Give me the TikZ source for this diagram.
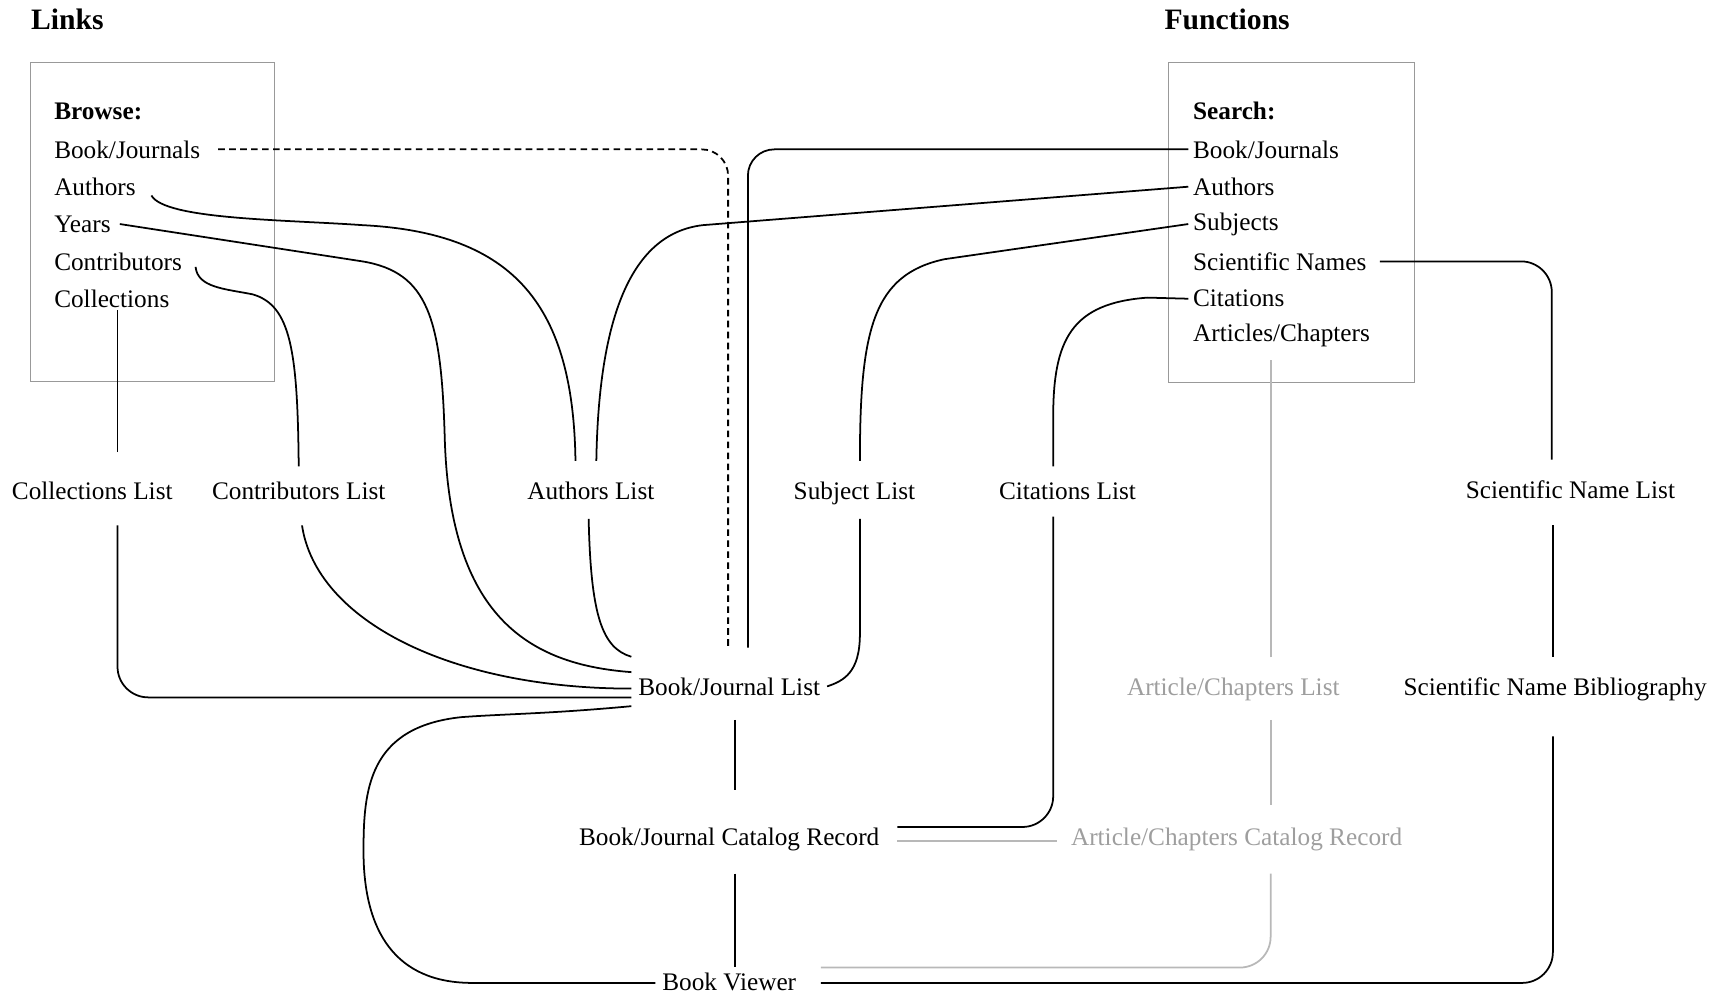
\documentclass[tikz,border=0pt]{standalone}
\usepackage{fontspec}
\setmainfont{Liberation Serif}
\usetikzlibrary{positioning,calc}

\begin{document}
\begin{tikzpicture}[
    x=0.5pt, y=-0.5pt,
    every node/.style={font=\fontsize{11.5}{13}\selectfont},
    header/.style={font=\fontsize{13.5}{15}\selectfont\bfseries, anchor=west, inner sep=1pt},
    item/.style={anchor=west, inner xsep=2pt, inner ysep=1pt},
    page/.style={text height=9.5pt, text depth=1pt, inner xsep=3pt, inner ysep=7.75pt},
    grayPage/.style={page, text=black!38},
    frame/.style={draw=black!40, line width=0.5pt},
    link/.style={line width=0.8pt},
    grayLink/.style={link, draw=black!28},
    dashLink/.style={link, dash pattern=on 3pt off 2pt}
  ]
  \useasboundingbox (0,0) rectangle (1568,907);

  % Headers
  \node[header] (links) at (26,18) {Links};
  \node[header] (functions) at (1058,18) {Functions};

  % Browse box
  \draw[frame] (28,57) rectangle (250,347);
  \node[item] (browse) at (45,101) {\textbf{Browse:}};
  \node[item] (bBooks) at (45,136) {Book/Journals};
  \node[item] (bAuthors) at (45,170) {Authors};
  \node[item] (bYears) at (45,204) {Years};
  \node[item] (bContrib) at (45,238) {Contributors};
  \node[item] (bCollect) at (45,272) {Collections};

  % Search box
  \draw[frame] (1064,57) rectangle (1288,348);
  \node[item] (search) at (1082,101) {\textbf{Search:}};
  \node[item] (sBooks) at (1082,136) {Book/Journals};
  \node[item] (sAuthors) at (1082,170) {Authors};
  \node[item] (sSubjects) at (1082,204) {Subjects};
  \node[item] (sSciNames) at (1082,238) {Scientific Names};
  \node[item] (sCitations) at (1082,272) {Citations};
  \node[item] (sArticles) at (1082,305) {Articles/Chapters};

  % List pages
  \node[page] (collList) at (84,446) {Collections List};
  \node[page] (contribList) at (272,446) {Contributors List};
  \node[page] (authList) at (538,446) {Authors List};
  \node[page] (subjList) at (778,446) {Subject List};
  \node[page] (citeList) at (972,446) {Citations List};
  \node[page] (sciList) at (1430,445) {Scientific Name List};

  \node[page] (bookList) at (664,625) {Book/Journal List};
  \node[grayPage] (artList) at (1123,625) {Article/Chapters List};
  \node[page] (sciBib) at (1416,625) {Scientific Name Bibliography};

  % Records and viewer
  \node[page] (bookRec) at (664,761) {Book/Journal Catalog Record};
  \node[grayPage] (artRec) at (1126,761) {Article/Chapters Catalog Record};
  \node[page] (viewer) at (664,893) {Book Viewer};

  % Browse links
  \draw[dashLink, rounded corners=12pt] ($(bBooks.east)+(12,0)$) -| ($(bookList.north)+(-1,-9)$);
  \draw[link] ($(bAuthors.east)+(10,8)$) .. controls (150,200) and (260,200) .. (330,205)
    .. controls (470,212) and (522,280) .. ($(authList.north)+(-14,0)$);
  \draw[link] ($(bYears.east)+(4,0)$) -- (330,238) .. controls (390,248) and (402,290) .. (405,400)
    .. controls (410,560) and (480,605) .. ($(bookList.west)+(0,-13)$);
  \draw[link] ($(bContrib.east)+(8,5)$) .. controls (180,262) and (205,263) .. (230,268)
    .. controls (265,278) and (271,320) .. ($(contribList.north)+(0,5)$);
  \draw[link] ($(collList.north)+(23,-8)$) -- ($(collList.north |- bCollect.south)+(23,0)$);

  % Lists into the book list
  \draw[link, rounded corners=14pt] ($(collList.south)+(23,6)$) |- ($(bookList.west)+(0,10)$);
  \draw[link] ($(contribList.south)+(3,6)$) .. controls (288,565) and (410,627) .. ($(bookList.west)+(0,2)$);
  \draw[link] ($(authList.south)+(-2,0)$) .. controls (538,560) and (548,590) .. ($(bookList.west)+(0,-27)$);
  \draw[link] ($(bookList.west)+(0,18)$) .. controls (500,650) and (460,650) .. (420,653)
    .. controls (335,662) and (331,720) .. (331,775)
    .. controls (331,848) and (360,895) .. (430,895) -- ($(viewer.west)+(0,2)$);

  % Search links
  \draw[link, rounded corners=12pt] (sBooks.west) -| ($(bookList.north)+(17,-9)$);
  \draw[link] (sAuthors.west) -- (640,205) .. controls (570,213) and (545,300) .. ($(authList.north)+(5,0)$);
  \draw[link] (sSubjects.west) -- (860,236) .. controls (795,250) and (783,300) .. ($(subjList.north)+(5,0)$);
  \draw[link] ($(subjList.south)+(5,0)$) -- ($(subjList.south)+(5,105)$)
    .. controls ($(subjList.south)+(5,140)$) and ($(bookList.east)+(15,-5)$) .. (bookList.east);
  \draw[link] (sCitations.west) -- (1045,271) .. controls (975,276) and (959,310) .. (959,380)
    -- ($(citeList.north)+(-13,5)$);
  \draw[link, rounded corners=14pt] ($(citeList.south)+(-13,-2)$) |- ($(bookRec.east)+(10,-8)$);
  \draw[grayLink] ($(bookRec.east)+(10,5)$) -- ($(artRec.west)+(-6,5)$);
  \draw[link, rounded corners=14pt] ($(sSciNames.east)+(8,0)$) -| ($(sciList.north)+(-17,0)$);
  \draw[link] ($(sciList.south)+(-16,7)$) -- ($(sciList.south |- sciBib.north)+(-16,0)$);
  \draw[link, rounded corners=14pt] ($(sciBib.south)+(-2,19)$) |- ($(viewer.east)+(16,2)$);

  % Articles/Chapters column
  \draw[grayLink] ($(artList.north)+(34,0)$) -- ($(artList.north |- sArticles.south)+(34,10)$);
  \draw[grayLink] ($(artList.south)+(34,4)$) -- ($(artList.south |- artRec.north)+(34,-2)$);
  \draw[grayLink, rounded corners=14pt] ($(artList.south |- artRec.south)+(34,8)$) |- ($(viewer.east)+(16,-12)$);

  % Book/Journal column
  \draw[link] ($(bookList.south)+(5,4)$) -- ($(bookRec.north)+(5,-15)$);
  \draw[link] ($(bookRec.south)+(5,8)$) -- ($(viewer.north)+(5,14)$);
\end{tikzpicture}
\end{document}
